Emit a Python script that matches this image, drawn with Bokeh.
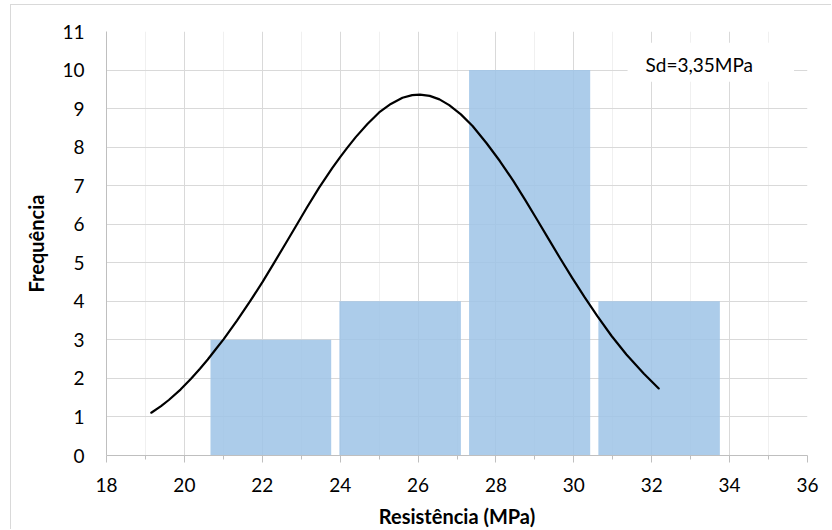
from bokeh.plotting import figure
from bokeh.models import FixedTicker, Range1d, Label, ColumnDataSource
from bokeh.embed import file_html
from bokeh.resources import INLINE

# ---- data ----
bin_left = [20.67, 23.98, 27.31, 30.63]
bin_right = [23.77, 27.10, 30.42, 33.75]
frequency = [3, 4, 10, 4]

curve_x = [19.15, 19.4, 19.6, 19.9, 20.17, 20.4, 20.6, 20.8, 21.01, 21.35,
           21.68, 22.0, 22.28, 22.6, 22.87, 23.15, 23.46, 23.8, 24.0, 24.18,
           24.4, 24.7, 25.0, 25.3, 25.6, 25.85, 26.05, 26.3, 26.55, 26.8,
           27.1, 27.4, 27.76, 28.1, 28.45, 28.75, 29.05, 29.35, 29.64, 29.95,
           30.28, 30.6, 30.97, 31.35, 31.8, 32.18]
curve_y = [1.11, 1.28, 1.44, 1.71, 1.99, 2.25, 2.49, 2.75, 3.02, 3.5,
           3.99, 4.49, 4.96, 5.5, 5.96, 6.44, 6.95, 7.46, 7.74, 7.98,
           8.26, 8.6, 8.9, 9.12, 9.28, 9.35, 9.36, 9.33, 9.24, 9.09,
           8.85, 8.55, 8.1, 7.64, 7.12, 6.63, 6.13, 5.62, 5.13, 4.62,
           4.1, 3.62, 3.1, 2.62, 2.12, 1.74]

x_ticks = [18, 20, 22, 24, 26, 28, 30, 32, 34, 36]
x_minor = [19, 21, 23, 25, 27, 29, 31, 33, 35]
y_ticks = [0, 1, 2, 3, 4, 5, 6, 7, 8, 9, 10, 11]

sd_text = "Sd=3,35MPa"
x_title = "Resistência (MPa)"
y_title = "Frequência"

FONT = "Lato"

# figure is offset by (11, 5) inside the page through its CSS border/margin
p = figure(width=821, height=525, output_backend="svg", toolbar_location=None,
           x_range=Range1d(18, 36), y_range=Range1d(0, 11),
           min_border_left=95, min_border_right=25, min_border_top=26,
           min_border_bottom=74)
p.styles = {"margin-left": "10px", "margin-top": "4px",
            "border-left": "1px solid #d9d9d9",
            "border-top": "1px solid #d9d9d9"}
p.outline_line_color = None
p.background_fill_color = "white"
p.border_fill_color = "white"

# ticks
p.xaxis.ticker = FixedTicker(ticks=x_ticks, minor_ticks=x_minor)
p.yaxis.ticker = FixedTicker(ticks=y_ticks, minor_ticks=[])

# grids
p.xgrid.grid_line_color = "#d9d9d9"
p.xgrid.grid_line_width = 1
p.xgrid.minor_grid_line_color = "#f0f0f0"
p.xgrid.minor_grid_line_width = 1
p.ygrid.grid_line_color = "#d9d9d9"
p.ygrid.grid_line_width = 1

# x axis styling
xa = p.xaxis[0]
xa.axis_line_color = "#bfbfbf"
xa.axis_line_width = 1
xa.major_tick_line_color = "#bfbfbf"
xa.minor_tick_line_color = "#bfbfbf"
xa.major_tick_out = 7
xa.major_tick_in = 0
xa.minor_tick_out = 4
xa.minor_tick_in = 0
xa.major_label_text_font = FONT
xa.major_label_text_font_size = "19px"
xa.major_label_text_color = "#000000"
xa.major_label_standoff = 15
xa.axis_label = x_title
xa.axis_label_text_font = FONT
xa.axis_label_text_font_style = "bold"
xa.axis_label_text_font_size = "20px"
xa.axis_label_text_color = "#000000"
xa.axis_label_standoff = 9

# y axis styling
ya = p.yaxis[0]
ya.axis_line_color = "#bfbfbf"
ya.axis_line_width = 1
ya.major_tick_out = 0
ya.major_tick_in = 0
ya.minor_tick_out = 0
ya.minor_tick_in = 0
ya.major_label_text_font = FONT
ya.major_label_text_font_size = "19px"
ya.major_label_text_color = "#000000"
ya.major_label_standoff = 22
ya.axis_label = y_title
ya.axis_label_text_font = FONT
ya.axis_label_text_font_style = "bold"
ya.axis_label_text_font_size = "20px"
ya.axis_label_text_color = "#000000"
ya.axis_label_standoff = 11

# bars
bars = ColumnDataSource(dict(left=bin_left, right=bin_right, top=frequency,
                             bottom=[0] * len(frequency)))
p.quad(left="left", right="right", top="top", bottom="bottom", source=bars,
       fill_color="#9DC3E6", fill_alpha=0.85, line_color=None)

# normal curve
p.line(curve_x, curve_y, line_color="black", line_width=2.2,
       line_join="round", line_cap="round")

# Sd label with white box
sd = Label(x=31.38, y=10.20, text=sd_text, text_align="left",
           text_baseline="middle", text_font=FONT, text_font_size="19px",
           text_color="black", background_fill_color="white",
           padding=dict(left=18, right=41, top=10, bottom=6))
p.add_layout(sd)

open("out.html", "w").write(file_html(p, INLINE))
